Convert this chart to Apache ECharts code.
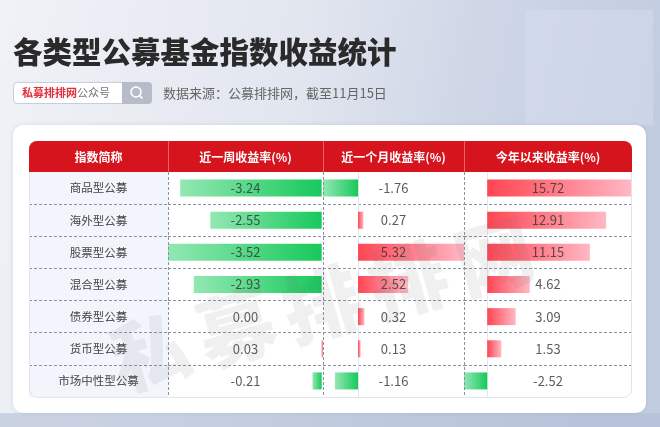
<!DOCTYPE html>
<html><head><meta charset="utf-8">
<script src="https://cdn.jsdelivr.net/npm/echarts@6/dist/echarts.min.js"></script>
<style>html,body{margin:0;padding:0;background:#fff;}#c{width:660px;height:427px;}</style>
</head><body><div id="c"></div>
<script>
const categories = ['商品型公募','海外型公募','股票型公募','混合型公募','债券型公募','货币型公募','市场中性型公募'];
const weekReturn = [-3.24, -2.55, -3.52, -2.93, 0.00, 0.03, -0.21];
const monthReturn = [-1.76, 0.27, 5.32, 2.52, 0.32, 0.13, -1.16];
const ytdReturn = [15.72, 12.91, 11.15, 4.62, 3.09, 1.53, -2.52];
const headers = ['指数简称', '近一周收益率(%)', '近一个月收益率(%)', '今年以来收益率(%)'];
const titleText = '各类型公募基金指数收益统计';
const sourceText = '数据来源：公募排排网，截至11月15日';
const brandText = '私募排排网';
const brandSuffix = '公众号';
const watermarkText = '私募排排网';

const chart = echarts.init(document.getElementById('c'), null, {renderer: 'canvas'});
const FONT = '"Noto Sans CJK SC","Noto Sans",sans-serif';

// layout
const colX = [29, 168, 323, 464, 632];
const tableTop = 141, headTop = 141, headBottom = 172, tableBottom = 397;
const gridH = tableBottom - headBottom;

function grad(v) {
  if (v < 0) {
    return new echarts.graphic.LinearGradient(0, 0, 1, 0, [
      {offset: 0, color: '#93e8b3'}, {offset: 1, color: '#17c95b'}]);
  }
  return new echarts.graphic.LinearGradient(0, 0, 1, 0, [
    {offset: 0, color: '#ff4553'}, {offset: 1, color: '#ffb8c4'}]);
}

const valueCols = [weekReturn, monthReturn, ytdReturn];

const grids = [], xAxes = [], yAxes = [], series = [];
for (let g = 0; g < 4; g++) {
  grids.push({
    left: colX[g], top: headBottom, width: colX[g + 1] - colX[g], height: gridH,
    show: g === 0, backgroundColor: '#f2f5fb', borderWidth: 0, containLabel: false
  });
  let mn = 0, mx = 1;
  if (g > 0) {
    const arr = valueCols[g - 1];
    mn = Math.min.apply(null, arr);
    mx = Math.max.apply(null, arr);
  }
  xAxes.push({type: 'value', gridIndex: g, min: mn, max: mx, show: false});
  yAxes.push({
    type: 'category', gridIndex: g, data: categories, inverse: true,
    axisTick: {show: false},
    axisLine: {show: g >= 2, onZero: true, lineStyle: {color: '#e4e7ec', width: 1}},
    axisLabel: g === 0 ? {show: true, inside: true, align: 'center', margin: (colX[1] - colX[0]) / 2,
      fontSize: 11.5, color: '#444', fontFamily: FONT} : {show: false},
    splitLine: {show: true, showMinLine: false, showMaxLine: false,
      lineStyle: {color: '#8a92a2', type: [3, 2], width: 1}}
  });
  if (g > 0) {
    const arr = valueCols[g - 1];
    series.push({
      type: 'bar', xAxisIndex: g, yAxisIndex: g, barWidth: 17, silent: true,
      data: arr.map(v => ({value: v, itemStyle: {color: grad(v)}})),
      z: 3
    });
    const mid = (mn + mx) / 2;
    series.push({
      type: 'scatter', xAxisIndex: g, yAxisIndex: g, symbolSize: 0, silent: true,
      data: arr.map((v, i) => [mid, i]),
      label: {show: true, position: 'inside', fontSize: 13, color: '#333', fontFamily: FONT,
        formatter: p => arr[p.dataIndex].toFixed(2)},
      z: 5
    });
  }
}

const graphic = [];
// background
graphic.push({type: 'rect', z: -100, silent: true, shape: {x: 0, y: 0, width: 660, height: 427},
  style: {fill: new echarts.graphic.LinearGradient(0, 0, 1, 0.3, [
    {offset: 0, color: '#f0f2f7'}, {offset: 0.45, color: '#e2e6ef'}, {offset: 0.7, color: '#cfd7e7'}, {offset: 1, color: '#c2cce0'}])}});
graphic.push({type: 'rect', z: -99, silent: true, shape: {x: 525, y: 10, width: 128, height: 115},
  style: {fill: 'rgba(214,222,237,0.5)'}});
graphic.push({type: 'rect', z: -99, silent: true, shape: {x: 0, y: 413, width: 660, height: 14},
  style: {fill: 'rgba(175,188,212,0.55)'}});
// card
graphic.push({type: 'rect', z: -90, silent: true, shape: {x: 13, y: 125, width: 633, height: 288, r: 10},
  style: {fill: '#ffffff', shadowBlur: 4, shadowColor: 'rgba(100,120,160,0.2)'}});
// title
graphic.push({type: 'text', z: 10, silent: true, style: {text: titleText, x: 13, y: 52, verticalAlign: 'middle',
  font: '900 29.5px ' + FONT, fill: '#2a2a2a'}});
// search box
graphic.push({type: 'rect', z: 10, silent: true, shape: {x: 13.5, y: 82.5, width: 138, height: 21, r: 4},
  style: {fill: '#ffffff', stroke: '#c8cdd6', lineWidth: 1}});
graphic.push({type: 'rect', z: 11, silent: true, shape: {x: 122, y: 82, width: 30, height: 22, r: [0, 4, 4, 0]},
  style: {fill: '#b7bdc8'}});
graphic.push({type: 'circle', z: 12, silent: true, shape: {cx: 136, cy: 92, r: 5},
  style: {fill: 'none', stroke: '#ffffff', lineWidth: 1.6}});
graphic.push({type: 'line', z: 12, silent: true, shape: {x1: 139.5, y1: 95.5, x2: 142.5, y2: 98.5},
  style: {stroke: '#ffffff', lineWidth: 1.6}});
graphic.push({type: 'text', z: 12, silent: true, style: {text: brandText, x: 22, y: 93, verticalAlign: 'middle',
  font: 'bold 11px ' + FONT, fill: '#e0323e'}});
graphic.push({type: 'text', z: 12, silent: true, style: {text: brandSuffix, x: 77, y: 93, verticalAlign: 'middle',
  font: '11px ' + FONT, fill: '#777'}});
graphic.push({type: 'text', z: 12, silent: true, style: {text: sourceText, x: 163, y: 93, verticalAlign: 'middle',
  font: '13px ' + FONT, fill: '#666'}});
// header
graphic.push({type: 'rect', z: 20, silent: true, shape: {x: colX[0], y: headTop, width: colX[4] - colX[0], height: headBottom - headTop, r: [8, 8, 0, 0]},
  style: {fill: '#d6141d'}});
for (let i = 0; i < 4; i++) {
  graphic.push({type: 'text', z: 22, silent: true, style: {text: headers[i], x: (colX[i] + colX[i + 1]) / 2, y: (headTop + headBottom) / 2 + 0.5,
    align: 'center', verticalAlign: 'middle', font: 'bold 12px ' + FONT, fill: '#ffffff'}});
}
for (let i = 1; i < 4; i++) {
  graphic.push({type: 'line', z: 21, silent: true, shape: {x1: colX[i] + 0.5, y1: headTop, x2: colX[i] + 0.5, y2: headBottom},
    style: {stroke: 'rgba(255,255,255,0.35)', lineWidth: 1}});
  graphic.push({type: 'line', z: 21, silent: true, shape: {x1: colX[i] + 0.5, y1: headBottom, x2: colX[i] + 0.5, y2: tableBottom},
    style: {stroke: '#8a92a2', lineWidth: 1, lineDash: [3, 2]}});
}
// table border
graphic.push({type: 'rect', z: 19, silent: true, shape: {x: colX[0] + 0.5, y: tableTop + 0.5, width: colX[4] - colX[0] - 1, height: tableBottom - tableTop, r: 8},
  style: {fill: 'none', stroke: '#e1e4ea', lineWidth: 1}});
// watermark
const wmPos = [[150, 352], [236, 328], [322, 304], [408, 280], [494, 256]];
for (let i = 0; i < watermarkText.length; i++) {
  graphic.push({type: 'text', z: 30, silent: true, x: wmPos[i][0], y: wmPos[i][1], rotation: 0.28,
    style: {text: watermarkText[i], x: 0, y: 0, align: 'center', verticalAlign: 'middle',
      font: '900 78px ' + FONT, fill: 'rgba(110,110,120,0.10)'}});
}

chart.setOption({
  animation: false,
  grid: grids, xAxis: xAxes, yAxis: yAxes, series: series, graphic: graphic
});
</script></body></html>
